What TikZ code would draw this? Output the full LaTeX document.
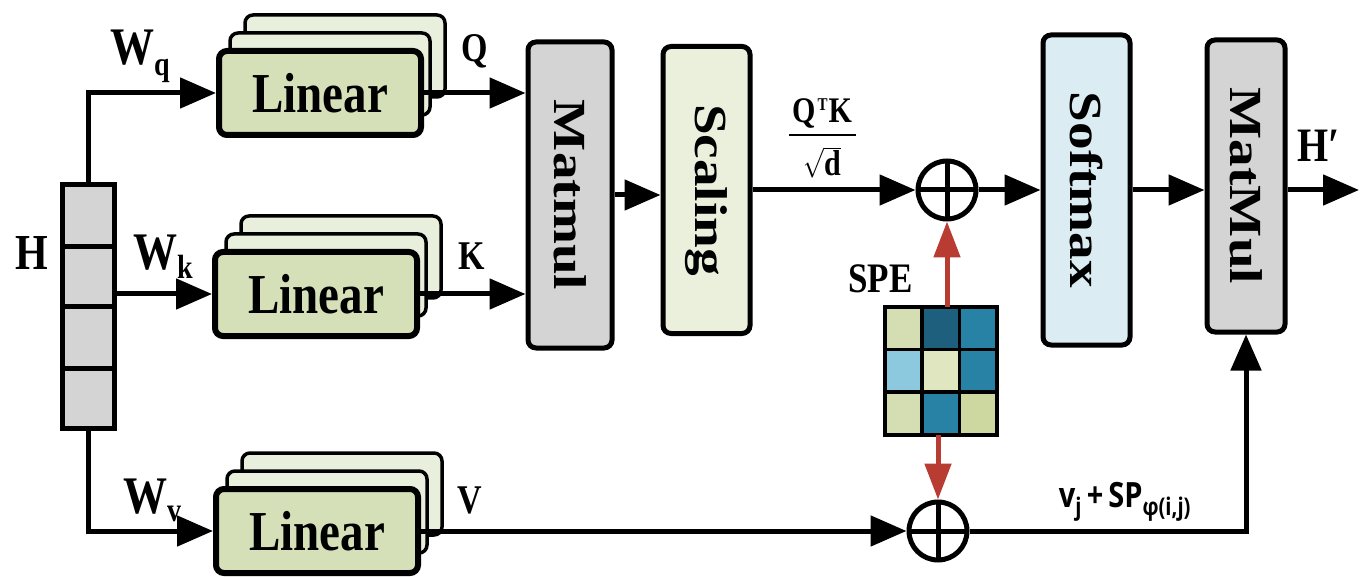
\documentclass[tikz,border=0pt]{standalone}
\usepackage{fontspec}
\setmainfont{Liberation Serif}
\newfontfamily\osans{Open Sans}
\usepackage{graphicx}
\usetikzlibrary{arrows.meta,calc}

\definecolor{linfront}{RGB}{214,224,184}
\definecolor{linback}{RGB}{233,239,221}
\definecolor{boxgrey}{RGB}{212,212,212}
\definecolor{scalefill}{RGB}{234,240,220}
\definecolor{softfill}{RGB}{220,236,243}
\definecolor{spered}{RGB}{185,60,50}
\definecolor{ga}{RGB}{213,222,178}
\definecolor{gb}{RGB}{30,95,125}
\definecolor{gc}{RGB}{40,130,165}
\definecolor{gd}{RGB}{140,200,222}
\definecolor{ge}{RGB}{224,231,192}
\definecolor{gf}{RGB}{205,215,160}

\newcommand{\st}[2]{\scalebox{1}[1.2]{\fontsize{#1}{#1}\selectfont\bfseries #2}}
\newcommand{\rt}[1]{\rotatebox{-90}{\scalebox{1.2}[1]{\fontsize{46}{46}\selectfont\bfseries #1}}}
\newcommand{\wsub}[2]{W\raisebox{#2}{\fontsize{28}{28}\selectfont #1}}

\tikzset{
  arr/.style={line width=5pt, -{Triangle[length=36pt,width=30pt]}},
  redarr/.style={line width=5pt, draw=spered, -{Triangle[length=36pt,width=26pt]}, color=spered},
  box/.style={draw, line width=5pt, rounded corners=8pt, inner sep=0pt},
  linf/.style={box, fill=linfront, line width=6pt, minimum width=202pt, minimum height=84pt},
  linb/.style={box, fill=linback, line width=3.5pt, minimum width=200pt, minimum height=82pt},
  lbl/.style={inner sep=0pt, anchor=base west},
  psum/.style={circle, draw, line width=5pt, minimum size=58pt, inner sep=0pt, fill=white,
    path picture={\draw[line width=5pt] (path picture bounding box.north) -- (path picture bounding box.south)
      (path picture bounding box.west) -- (path picture bounding box.east);}},
}

\begin{document}
\begin{tikzpicture}[x=1pt,y=-1pt]
\useasboundingbox (0,0) rectangle (1360,577);

% H column
\node[draw, fill=boxgrey, line width=5pt, minimum width=52pt, minimum height=243pt, inner sep=0pt] (hbox) at (88,306.5) {};
\foreach \yy in {247,307,368} \draw[line width=5pt] (hbox.west |- 0,\yy) -- (hbox.east |- 0,\yy);
\node[lbl] (hlab) at (15,270) {\st{42}{H}};

% Linear stacks
\foreach \nm/\cx/\cy in {q/320/93, k/316/294, v/317/531}{
  \node[linb] (\nm back) at (\cx+25,\cy-37) {};
  \node[linb] (\nm mid) at (\cx+10,\cy-19) {};
  \node[linf] (\nm f) at (\cx,\cy) {\st{47}{Linear}};
}

% Matmul / Scaling / Softmax / MatMul
\node[box, fill=boxgrey, minimum width=84pt, minimum height=306pt] (mm1) at (570,195) {\rt{Matmul}};
\node[box, fill=scalefill, minimum width=87pt, minimum height=287pt] (sc) at (706.5,190) {\rt{Scaling}};
\node[box, fill=softfill, minimum width=87pt, minimum height=310pt] (sm) at (1086.5,190) {\rt{Softmax}};
\node[box, fill=boxgrey, minimum width=78pt, minimum height=292pt] (mm2) at (1246,186) {\rt{MatMul}};

% sums
\node[psum] (p1) at (947,190) {};
\node[psum] (p2) at (938,531) {};

% SPE grid
\node[minimum width=112pt, minimum height=128pt, inner sep=0pt] (spe) at (941,371) {};
\coordinate (g) at (spe.north west);
\fill[ga] (g) rectangle ++(37.33,42.67);
\fill[gb] (g) ++(37.33,0) rectangle ++(37.33,42.67);
\fill[gc] (g) ++(74.67,0) rectangle ++(37.33,42.67);
\fill[gd] (g) ++(0,42.67) rectangle ++(37.33,42.67);
\fill[ge] (g) ++(37.33,42.67) rectangle ++(37.33,42.67);
\fill[gc] (g) ++(74.67,42.67) rectangle ++(37.33,42.67);
\fill[ga] (g) ++(0,85.33) rectangle ++(37.33,42.67);
\fill[gc] (g) ++(37.33,85.33) rectangle ++(37.33,42.67);
\fill[gf] (g) ++(74.67,85.33) rectangle ++(37.33,42.67);
\draw[line width=3.5pt] (spe.north west) rectangle (spe.south east);
\draw[line width=3.5pt] (g) ++(37.33,0) -- ++(0,128);
\draw[line width=3.5pt] (g) ++(74.67,0) -- ++(0,128);
\draw[line width=3.5pt] (g) ++(0,42.67) -- ++(112,0);
\draw[line width=3.5pt] (g) ++(0,85.33) -- ++(112,0);
\node[lbl] (spelab) at (848,293) {\st{35}{SPE}};

% connectors
\draw[arr] (hbox.north) |- (qf.west);
\draw[arr] (hbox.east |- kf.west) -- (kf.west);
\draw[arr] (hbox.south) |- (vf.west);
\draw[arr] (qf.east) -- (qf.east -| mm1.west);
\draw[arr] (kf.east) -- (kf.east -| mm1.west);
\draw[arr] (mm1.east) -- (mm1.east -| sc.west);
\draw[arr] (sc.east) -- (p1.west);
\draw[arr] (p1.east) -- (sm.west);
\draw[arr] (sm.east) -- (sm.east -| mm2.west);
\coordinate (out) at (1359,190);
\draw[arr] (mm2.east |- out) -- (out);
\draw[arr] (vf.east) -- (p2.west);
\draw[arr] (p2.east) -| (mm2.south);
\draw[redarr] (spe.north -| p1) -- (p1.south);
\draw[redarr] (spe.south -| p2) -- (p2.north);

% labels
\node[lbl] (wq) at (110,65) {\st{44}{\wsub{q}{-9pt}}};
\node[lbl] (wk) at (133,270) {\st{44}{\wsub{k}{-7pt}}};
\node[lbl] (wv) at (123,513) {\st{44}{\wsub{v}{-7pt}}};
\node[lbl] (ql) at (461,62) {\st{34}{Q}};
\node[lbl] (kl) at (458,270) {\st{34}{K}};
\node[lbl] (vl) at (457,513) {\st{34}{V}};
\node[lbl] (hp) at (1297,162) {\st{40}{H′}};
% fraction Q^T K / sqrt d
\node[inner sep=0pt, anchor=base] (fnum) at (822,123) {\st{30}{Q\kern2pt\raisebox{10pt}{\fontsize{15}{15}\selectfont T}\kern1pt K}};
\coordinate (fbl) at (789,135);
\coordinate (fbr) at (856,135);
\draw[line width=1.6pt] (fbl) -- (fbr);
\node[inner sep=0pt, anchor=base] (fden) at (822,176) {\st{30}{$\sqrt{\mbox{d}}$}};
\node (vsp) at (1125,502) {\scalebox{1}[1.2]{\fontsize{29}{29}\selectfont\osans\bfseries v\textsubscript{j}\,+\,SP\textsubscript{φ(i,j)}}};
\end{tikzpicture}
\end{document}
